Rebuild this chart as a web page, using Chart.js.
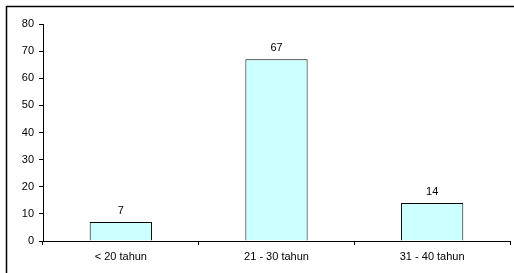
<!DOCTYPE html>
<html lang="id">
<head>
  <meta charset="UTF-8" />
  <title>Umur</title>
  <script src="https://cdn.jsdelivr.net/npm/chart.js"></script>
  <style>
    body { margin: 0; background: #fff; }
    #wrap { width: 514px; height: 273px; position: relative; }
  </style>
</head>
<body>
  <div id="wrap"><canvas id="c" width="514" height="273"></canvas></div>
  <script>
    const categories = ['< 20 tahun', '21 - 30 tahun', '31 - 40 tahun'];
    const values = [7, 67, 14];
    const yMax = 80;
    const yStep = 10;

    // outer frame (only left and top edges are inside the picture)
    const framePlugin = {
      id: 'frame',
      beforeDraw(chart) {
        const c = chart.ctx;
        c.save();
        c.strokeStyle = '#000';
        c.lineWidth = 1.5;
        c.strokeRect(6.5, 6.5, chart.width + 20, chart.height + 20);
        c.restore();
      }
    };

    const valueLabels = {
      id: 'valueLabels',
      afterDatasetsDraw(chart) {
        const c = chart.ctx;
        const meta = chart.getDatasetMeta(0);
        c.save();
        c.font = '11px "Liberation Sans", Arial, sans-serif';
        c.fillStyle = '#000';
        c.textAlign = 'center';
        c.textBaseline = 'bottom';
        meta.data.forEach((bar, i) => {
          c.fillText(values[i], bar.x, bar.y - 6);
        });
        c.restore();
      }
    };

    new Chart(document.getElementById('c'), {
      type: 'bar',
      data: {
        labels: categories,
        datasets: [{
          data: values,
          backgroundColor: '#ccffff',
          borderColor: '#000',
          borderWidth: 1,
          categoryPercentage: 0.4,
          barPercentage: 1
        }]
      },
      options: {
        responsive: false,
        animation: false,
        layout: { padding: { top: 24, right: 4, left: 0, bottom: 0 } },
        plugins: { legend: { display: false }, tooltip: { enabled: false } },
        font: { family: '"Liberation Sans", Arial, sans-serif' },
        scales: {
          x: {
            grid: { offset: true, drawOnChartArea: false, drawTicks: true, tickLength: 4, color: '#000' },
            border: { display: true, color: '#000', width: 1 },
            ticks: { color: '#000', padding: 5, font: { size: 11 }, maxRotation: 0 },
            afterFit(s) { s.height = 32; }
          },
          y: {
            min: 0,
            max: yMax,
            grid: { drawOnChartArea: false, drawTicks: true, tickLength: 4, color: '#000' },
            border: { display: true, color: '#000', width: 1 },
            ticks: { stepSize: yStep, color: '#000', padding: 5, font: { size: 11 } },
            afterFit(s) { s.width = 43; }
          }
        }
      },
      plugins: [framePlugin, valueLabels]
    });
  </script>
</body>
</html>
